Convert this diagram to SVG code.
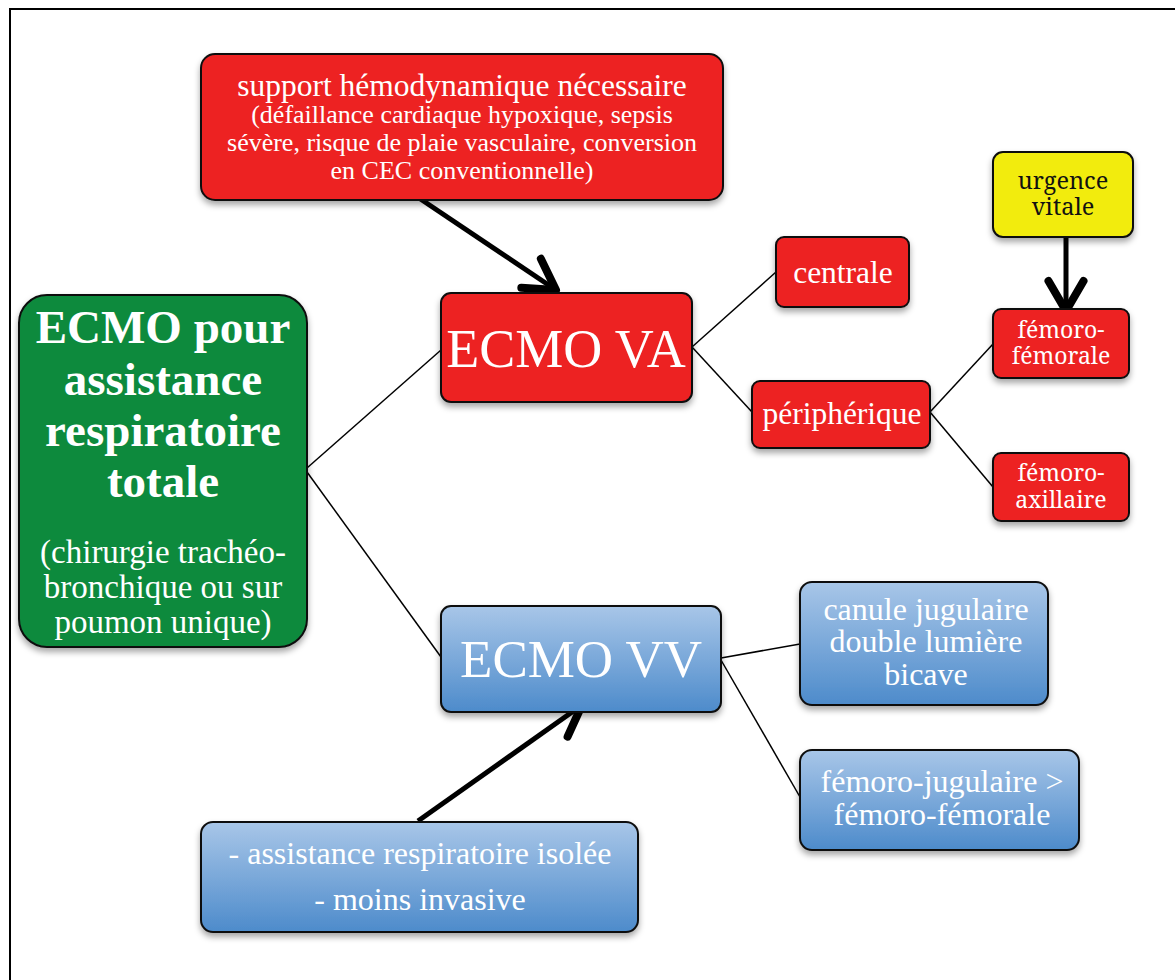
<svg xmlns="http://www.w3.org/2000/svg" width="1175" height="980" viewBox="0 0 1175 980">
<defs>
<linearGradient id="blue" x1="0" y1="0" x2="0" y2="1">
<stop offset="0" stop-color="#a8c6e8"/>
<stop offset="1" stop-color="#4d8bcb"/>
</linearGradient>
<filter id="sh" x="-10%" y="-10%" width="120%" height="130%">
<feDropShadow dx="0" dy="4" stdDeviation="3" flood-color="#000" flood-opacity="0.35"/>
</filter>
<marker id="ah" markerWidth="10" markerHeight="10" refX="7" refY="5" orient="auto" markerUnits="strokeWidth">
<path d="M1,1.5 L7,5 L1,8.5" fill="none" stroke="#000" stroke-width="1.6" stroke-linecap="round" stroke-linejoin="round"/>
</marker>
</defs>
<style>
.box{stroke:#111;stroke-width:2;filter:url(#sh)}
.red{fill:#ed2024}
.grn{fill:#0a8a3e}
.yel{fill:#f2ec0e}
.blu{fill:url(#blue)}
.t{fill:#fff;text-anchor:middle;font-family:'Liberation Serif','Times New Roman',serif}
.n{fill:#fff;text-anchor:middle;font-family:'Noto Serif','Liberation Serif',serif}
.dk{fill:#111}
.b{font-weight:bold}
.thin{stroke:#000;stroke-width:1.5;fill:none}
.thick{stroke:#000;stroke-width:5;fill:none;marker-end:url(#ah)}
</style>
<rect width="1175" height="980" fill="#fff"/>
<path d="M10,980 V9 H1175" fill="none" stroke="#000" stroke-width="2"/>

<g id="connectors">
<line class="thin" x1="307" y1="468" x2="441" y2="350"/>
<line class="thin" x1="307" y1="472" x2="441" y2="657"/>
<line class="thin" x1="692" y1="347" x2="776" y2="272"/>
<line class="thin" x1="692" y1="347" x2="752" y2="412"/>
<line class="thin" x1="930" y1="412" x2="993" y2="344"/>
<line class="thin" x1="930" y1="412" x2="993" y2="487"/>
<line class="thin" x1="721" y1="658" x2="800" y2="644"/>
<line class="thin" x1="721" y1="660" x2="800" y2="797"/>
<line class="thick" x1="419" y1="198" x2="556" y2="290"/>
<line class="thick" x1="1066" y1="224" x2="1066" y2="311"/>
<line class="thick" x1="418" y1="821" x2="582" y2="705"/>
</g>

<g id="n-support">
<rect class="box red" x="201" y="54" width="522" height="146" rx="14"/>
<text class="t" x="462" y="96" font-size="31.5">support hémodynamique nécessaire</text>
<text class="t" x="462" y="123" font-size="26">(défaillance cardiaque hypoxique, sepsis</text>
<text class="t" x="462" y="151" font-size="26">sévère, risque de plaie vasculaire, conversion</text>
<text class="t" x="462" y="179" font-size="26">en CEC conventionnelle)</text>
</g>

<g id="n-ecmo">
<rect class="box grn" x="19" y="295" width="288" height="352" rx="28"/>
<text class="t b" x="163" y="343" font-size="47">ECMO pour</text>
<text class="t b" x="163" y="395" font-size="47">assistance</text>
<text class="t b" x="163" y="446" font-size="47">respiratoire</text>
<text class="t b" x="163" y="497" font-size="47">totale</text>
<text class="t" x="163" y="563" font-size="33">(chirurgie trachéo-</text>
<text class="t" x="163" y="598" font-size="33">bronchique ou sur</text>
<text class="t" x="163" y="633" font-size="33">poumon unique)</text>
</g>

<g id="n-va">
<rect class="box red" x="441" y="293" width="251" height="109" rx="10"/>
<text class="t" x="566" y="367" font-size="54">ECMO VA</text>
</g>

<g id="n-centrale">
<rect class="box red" x="776" y="237" width="133" height="70" rx="8"/>
<text class="t" x="843" y="283" font-size="31.5">centrale</text>
</g>

<g id="n-peripherique">
<rect class="box red" x="752" y="381" width="178" height="67" rx="8"/>
<text class="t" x="842" y="424" font-size="31.5">périphérique</text>
</g>

<g id="n-urgence">
<rect class="box yel" x="993" y="152" width="140" height="85" rx="10"/>
<text class="n dk" x="1063" y="189" font-size="23.5">urgence</text>
<text class="n dk" x="1063" y="215" font-size="23.5">vitale</text>
</g>

<g id="n-femfem">
<rect class="box red" x="993" y="309" width="136" height="69" rx="8"/>
<text class="n" x="1061" y="338" font-size="23">fémoro-</text>
<text class="n" x="1061" y="364" font-size="23">fémorale</text>
</g>

<g id="n-femax">
<rect class="box red" x="993" y="453" width="136" height="68" rx="8"/>
<text class="n" x="1061" y="481" font-size="23">fémoro-</text>
<text class="n" x="1061" y="508" font-size="23">axillaire</text>
</g>

<g id="n-vv">
<rect class="box blu" x="441" y="606" width="280" height="106" rx="10"/>
<text class="t" x="581" y="677" font-size="53">ECMO VV</text>
</g>

<g id="n-canule">
<rect class="box blu" x="800" y="582" width="248" height="123" rx="12"/>
<text class="t" x="926" y="620" font-size="32">canule jugulaire</text>
<text class="t" x="926" y="652" font-size="32">double lumière</text>
<text class="t" x="926" y="685" font-size="32">bicave</text>
</g>

<g id="n-femjug">
<rect class="box blu" x="800" y="750" width="279" height="100" rx="12"/>
<text class="t" x="942" y="792" font-size="32">fémoro-jugulaire &gt;</text>
<text class="t" x="942" y="825" font-size="32">fémoro-fémorale</text>
</g>

<g id="n-assist">
<rect class="box blu" x="201" y="822" width="437" height="110" rx="12"/>
<text class="t" x="420" y="864" font-size="32">- assistance respiratoire isolée</text>
<text class="t" x="420" y="910" font-size="32">- moins invasive</text>
</g>
</svg>
